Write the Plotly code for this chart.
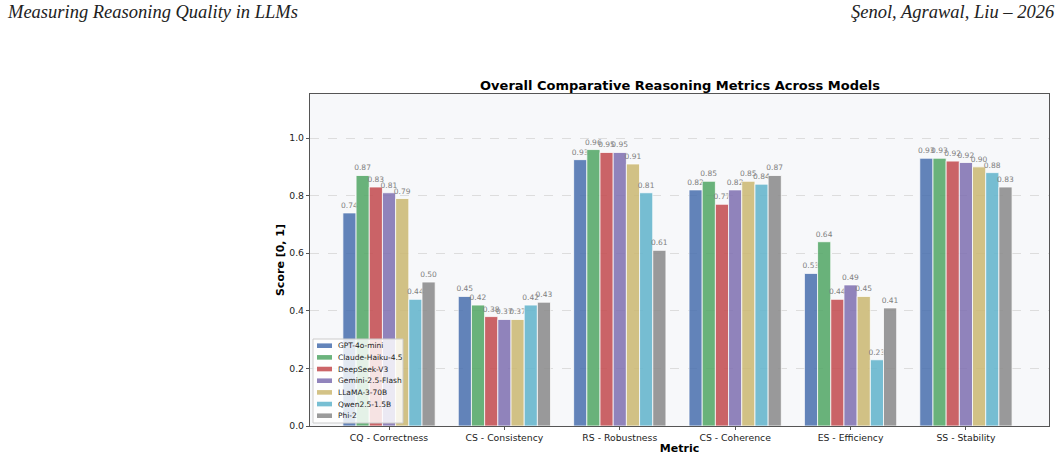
import plotly.graph_objects as go

metrics = ["CQ - Correctness", "CS - Consistency", "RS - Robustness",
           "CS - Coherence", "ES - Efficiency", "SS - Stability"]
models = ["GPT-4o-mini", "Claude-Haiku-4.5", "DeepSeek-V3", "Gemini-2.5-Flash",
          "LLaMA-3-70B", "Qwen2.5-1.5B", "Phi-2"]

gpt4o_mini = [0.74, 0.45, 0.925, 0.82, 0.53, 0.93]
claude_haiku = [0.87, 0.42, 0.96, 0.85, 0.64, 0.93]
deepseek_v3 = [0.83, 0.38, 0.95, 0.77, 0.44, 0.92]
gemini_flash = [0.81, 0.37, 0.95, 0.82, 0.49, 0.915]
llama_70b = [0.79, 0.37, 0.91, 0.85, 0.45, 0.90]
qwen_15b = [0.44, 0.42, 0.81, 0.84, 0.23, 0.88]
phi_2 = [0.50, 0.43, 0.61, 0.87, 0.41, 0.83]

series = [gpt4o_mini, claude_haiku, deepseek_v3, gemini_flash, llama_70b, qwen_15b, phi_2]
colors = ["#4C72B0", "#55A868", "#C44E52", "#8172B2", "#CCB974", "#64B5CD", "#8C8C8C"]

y_ticks = [0.0, 0.2, 0.4, 0.6, 0.8, 1.0]

# plot area in pixels (for legend / header placement)
PL, PR, PT, PB = 310, 1049, 94, 426
W, H = 1061, 461


def px(xp):
    return (xp - PL) / (PR - PL)


def py(yp):
    return (PB - yp) / (PB - PT)


fig = go.Figure()
xs = list(range(len(metrics)))
for name, vals, c in zip(models, series, colors):
    fig.add_trace(go.Bar(
        x=xs, y=vals, name=name, showlegend=False,
        marker=dict(color=c, opacity=0.87, line=dict(color="white", width=0.8)),
        text=[f"{v:.2f}" for v in vals], textposition="outside",
        textfont=dict(size=7.5, color="#808080", family="DejaVu Sans"),
        constraintext="none", cliponaxis=False,
    ))

fig.update_layout(
    width=W, height=H,
    margin=dict(l=PL, r=W - PR, t=PT, b=H - PB),
    paper_bgcolor="white", plot_bgcolor="#f7f8fa",
    barmode="group", bargap=0.2, bargroupgap=0,
    font=dict(family="DejaVu Sans", size=10, color="#222"),
    title=dict(text="<b>Overall Comparative Reasoning Metrics Across Models</b>",
               x=680 / W, xanchor="center", y=1 - 85 / H, yanchor="middle",
               yref="container", font=dict(size=13, color="black")),
    showlegend=False,
    xaxis=dict(tickmode="array", tickvals=xs, ticktext=metrics, range=[-0.685, 5.72],
               showline=True, linecolor="#555", linewidth=1.2, mirror=True,
               ticks="outside", ticklen=3, tickcolor="#555", automargin=False,
               showgrid=False, tickfont=dict(size=9.3, color="#222"),
               title=dict(text="<b>Metric</b>", font=dict(size=11, color="black"), standoff=2)),
    yaxis=dict(range=[0, 1.153], tickvals=y_ticks, ticktext=[f"{t:.1f}" for t in y_ticks],
               showline=True, linecolor="#555", linewidth=1.2, mirror=True,
               ticks="outside", ticklen=3, tickcolor="#555", automargin=False,
               showgrid=True, gridcolor="#dddddd", griddash="dash", gridwidth=0.8,
               zeroline=False, tickfont=dict(size=9.3, color="#222"),
               title=dict(text="<b>Score [0, 1]</b>", font=dict(size=11, color="black"), standoff=2)),
)

# legend box (drawn manually for compact matplotlib-like spacing)
fig.add_shape(type="rect", xref="paper", yref="paper",
              x0=px(313), x1=px(403), y0=py(423), y1=py(339),
              fillcolor="rgba(255,255,255,0.82)", line=dict(color="#cccccc", width=1), layer="above")
for i, (name, c) in enumerate(zip(models, colors)):
    yc = 345.7 + i * 11.67
    fig.add_shape(type="rect", xref="paper", yref="paper",
                  x0=px(317), x1=px(332), y0=py(yc + 2.3), y1=py(yc - 2.3),
                  fillcolor=c, opacity=0.87, line=dict(width=0), layer="above")
    fig.add_annotation(text=name, xref="paper", yref="paper", x=px(336), y=py(yc),
                       xanchor="left", yanchor="middle", showarrow=False,
                       font=dict(size=7.5, color="#222"))

fig.add_annotation(text="<i>Measuring Reasoning Quality in LLMs</i>", xref="paper", yref="paper",
                   x=px(5), y=py(12), xanchor="left", yanchor="middle", showarrow=False,
                   font=dict(family="Liberation Serif", size=18.5, color="#222"))
fig.add_annotation(text="<i>Şenol, Agrawal, Liu – 2026</i>", xref="paper", yref="paper",
                   x=px(1057), y=py(12), xanchor="right", yanchor="middle", showarrow=False,
                   font=dict(family="Liberation Serif", size=18.5, color="#222"))

fig.write_html("out.html")
